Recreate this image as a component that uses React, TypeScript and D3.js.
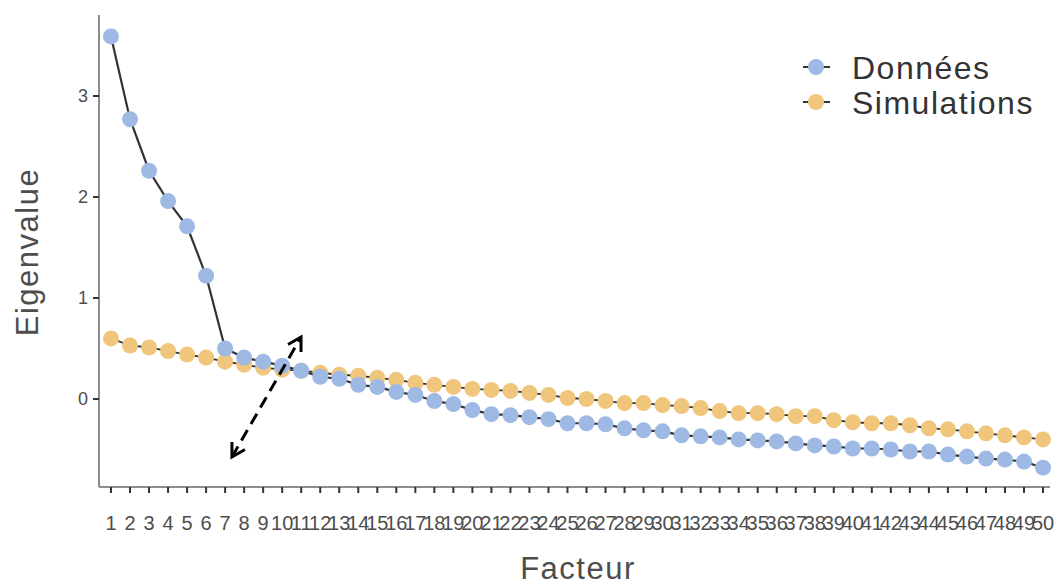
import React from "react";
import * as d3 from "d3";

const factors: number[] = Array.from({ length: 50 }, (_, i) => i + 1);
const donnees: number[] = [
  3.59, 2.77, 2.26, 1.96, 1.71, 1.22, 0.5, 0.41, 0.37, 0.33,
  0.28, 0.22, 0.2, 0.14, 0.12, 0.07, 0.04, -0.02, -0.05, -0.11,
  -0.15, -0.16, -0.18, -0.2, -0.24, -0.24, -0.25, -0.29, -0.31, -0.32,
  -0.36, -0.37, -0.38, -0.4, -0.41, -0.42, -0.44, -0.46, -0.47, -0.49,
  -0.49, -0.5, -0.52, -0.52, -0.55, -0.57, -0.59, -0.6, -0.62, -0.68,
];
const simulations: number[] = [
  0.6, 0.53, 0.51, 0.475, 0.44, 0.41, 0.37, 0.34, 0.31, 0.29,
  0.28, 0.26, 0.24, 0.23, 0.21, 0.19, 0.16, 0.14, 0.12, 0.1,
  0.09, 0.08, 0.06, 0.04, 0.01, 0.0, -0.02, -0.04, -0.04, -0.06,
  -0.07, -0.09, -0.12, -0.14, -0.14, -0.15, -0.17, -0.17, -0.21, -0.23,
  -0.24, -0.24, -0.26, -0.29, -0.3, -0.32, -0.34, -0.36, -0.38, -0.4,
];
const yTicks: number[] = [0, 1, 2, 3];
const seriesNames: string[] = ["Données", "Simulations"];
const arrowFrom: [number, number] = [7.36, -0.574];
const arrowTo: [number, number] = [10.99, 0.614];

const BLUE = "#9db9e4";
const ORANGE = "#f0c67c";
const FONT = "'Liberation Sans', Arial, Helvetica, sans-serif";

export default function App() {
  const W = 1057;
  const H = 582;
  const panelLeft = 99;
  const panelRight = 1050;
  const panelTop = 15;
  const panelBottom = 487;

  const x = d3.scaleLinear().domain([1, 50]).range([111, 1043]);
  const y = d3.scaleLinear().domain([0, 3]).range([399, 96]);

  const line = d3
    .line<number>()
    .x((_, i) => x(factors[i]))
    .y((d) => y(d));

  const ax1 = x(arrowFrom[0]);
  const ay1 = y(arrowFrom[1]);
  const ax2 = x(arrowTo[0]);
  const ay2 = y(arrowTo[1]);

  return (
    <svg
      width={W}
      height={H}
      style={{ position: "absolute", left: 0, top: 0, background: "#fff" }}
      fontFamily={FONT}
    >
      <defs>
        <marker
          id="chev"
          viewBox="0 0 18 18"
          refX="15"
          refY="9"
          markerWidth="18"
          markerHeight="18"
          markerUnits="userSpaceOnUse"
          orient="auto-start-reverse"
        >
          <path d="M2,1.5 L15,9 L2,16.5" fill="none" stroke="#000" strokeWidth={3} />
        </marker>
      </defs>

      {/* axes */}
      <line x1={panelLeft} x2={panelLeft} y1={panelTop} y2={panelBottom} stroke="#8c8c8c" strokeWidth={2} />
      <line x1={panelLeft} x2={panelRight} y1={panelBottom} y2={panelBottom} stroke="#8c8c8c" strokeWidth={2} />

      {yTicks.map((t) => (
        <g key={"y" + t}>
          <line x1={panelLeft - 6} x2={panelLeft} y1={y(t)} y2={y(t)} stroke="#333" strokeWidth={2} />
          <text x={panelLeft - 11} y={y(t)} dy="0.35em" textAnchor="end" fontSize={18} fill="#4d4d4d">
            {t}
          </text>
        </g>
      ))}

      {factors.map((f) => (
        <g key={"x" + f}>
          <line x1={x(f)} x2={x(f)} y1={panelBottom} y2={panelBottom + 6} stroke="#333" strokeWidth={2} />
          <text x={x(f)} y={panelBottom + 43} textAnchor="middle" fontSize={20} fill="#4d4d4d">
            {f}
          </text>
        </g>
      ))}

      <text
        transform={`translate(38,252) rotate(-90)`}
        textAnchor="middle"
        fontSize={31}
        letterSpacing={1.5}
        fill="#4d4d4d"
      >
        Eigenvalue
      </text>
      <text
        x={578}
        y={579}
        textAnchor="middle"
        fontSize={31}
        letterSpacing={1.5}
        fill="#4d4d4d"
      >
        Facteur
      </text>

      {/* simulations */}
      <path d={line(simulations) || ""} fill="none" stroke="#333" strokeWidth={1.8} />
      {simulations.map((v, i) => (
        <circle key={"s" + i} cx={x(factors[i])} cy={y(v)} r={8} fill={ORANGE} />
      ))}

      {/* données */}
      <path d={line(donnees) || ""} fill="none" stroke="#333" strokeWidth={2.2} />
      {donnees.map((v, i) => (
        <circle key={"d" + i} cx={x(factors[i])} cy={y(v)} r={8} fill={BLUE} />
      ))}

      {/* arrow */}
      <line
        x1={ax1}
        y1={ay1}
        x2={ax2}
        y2={ay2}
        stroke="#000"
        strokeWidth={3}
        strokeDasharray="12,7"
        markerStart="url(#chev)"
        markerEnd="url(#chev)"
      />

      {/* legend */}
      {seriesNames.map((name, i) => {
        const ly = 67 + i * 35;
        return (
          <g key={name}>
            <line x1={803} x2={830} y1={ly} y2={ly} stroke="#333" strokeWidth={2} />
            <circle cx={816} cy={ly} r={8} fill={i === 0 ? BLUE : ORANGE} />
            <text x={852} y={ly} dy="0.36em" fontSize={32} letterSpacing={1.5} fill="#333">
              {name}
            </text>
          </g>
        );
      })}
    </svg>
  );
}
